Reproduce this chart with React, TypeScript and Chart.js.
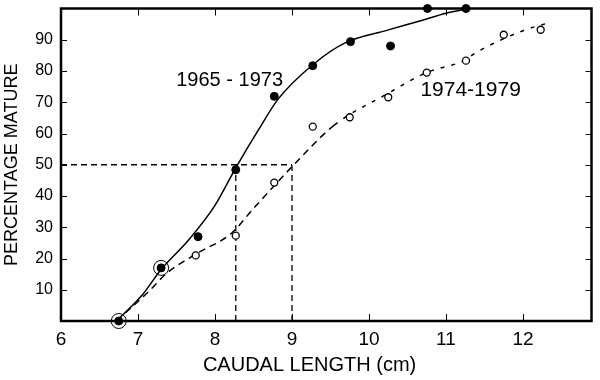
import React, { useEffect, useRef } from "react";
import { Chart, registerables } from "chart.js";

Chart.register(...registerables);

// ---- data ----
const xTickValues = [6, 7, 8, 9, 10, 11, 12];
const yTickValues = [10, 20, 30, 40, 50, 60, 70, 80, 90];

// 1965-1973 (filled circles)
const filledX = [6.75, 7.3, 7.78, 8.27, 8.77, 9.27, 9.76, 10.28, 10.76, 11.26];
const filledY = [0, 17, 27, 48.4, 71.9, 81.7, 89.4, 88, 100, 100];

// 1974-1979 (open circles)
const openX = [7.75, 8.27, 8.77, 9.27, 9.75, 10.25, 10.75, 11.26, 11.75, 12.23];
const openY = [21, 27.3, 44.3, 62.2, 65.2, 71.6, 79.5, 83.3, 91.6, 93.2];

// circled points
const ringX = [6.75, 7.3];
const ringY = [0, 17];

// fitted curve 1965-1973 (solid)
const solidCurveX = [6.72, 7.06, 7.3, 7.66, 8.0, 8.27, 8.56, 8.82, 9.27, 9.69, 10.23, 10.66, 11.0, 11.3];
const solidCurveY = [0, 8.5, 16.5, 26, 37, 49, 61, 71, 82, 89, 93, 96, 98.5, 100];

// fitted curve 1974-1979 (dashed)
const dashedCurveX = [6.72, 7.15, 7.36, 7.75, 8.21, 8.5, 9.04, 9.55, 10.2, 10.75, 11.23, 11.39, 12.0, 12.33];
const dashedCurveY = [0, 9.7, 15, 21.4, 28, 36, 50.4, 62.7, 72.2, 79.5, 83.3, 85.9, 92.9, 95.4];

// 50% reference lines
const refHorizX = [6, 9.0];
const refHorizY = [50, 50];
const refV1X = [8.27, 8.27];
const refV1Y = [0, 50];
const refV2X = [9.0, 9.0];
const refV2Y = [0, 50];

const labelA = "1965 - 1973";
const labelAPos = [8.19, 77];
const labelB = "1974-1979";
const labelBPos = [11.32, 73.8];

const SANS = '"Liberation Sans", Arial, sans-serif';

const pts = (xs: number[], ys: number[]) => xs.map((x, i) => ({ x, y: ys[i] }));

const zeroPad = (s: any) => {
  s.paddingTop = 0;
  s.paddingBottom = 0;
  s.paddingLeft = 0;
  s.paddingRight = 0;
};

export default function App() {
  const ref = useRef<HTMLCanvasElement>(null);

  useEffect(() => {
    document.body.style.margin = "0";
    const canvas = ref.current;
    if (!canvas) return;

    const framePlugin = {
      id: "framePlugin",
      afterDatasetsDraw(chart: any) {
        const { ctx, chartArea, scales } = chart;
        const xs = scales.x;
        const ys = scales.y;
        ctx.save();
        ctx.strokeStyle = "#000";
        // inner ticks
        ctx.lineWidth = 1;
        ctx.beginPath();
        yTickValues.forEach((v) => {
          const py = Math.round(ys.getPixelForValue(v)) + 0.5;
          ctx.moveTo(chartArea.left, py);
          ctx.lineTo(chartArea.left + 6, py);
          ctx.moveTo(chartArea.right, py);
          ctx.lineTo(chartArea.right - 6, py);
        });
        xTickValues.slice(1).forEach((v) => {
          const px = Math.round(xs.getPixelForValue(v)) + 0.5;
          ctx.moveTo(px, chartArea.bottom);
          ctx.lineTo(px, chartArea.bottom - 7);
          ctx.moveTo(px, chartArea.top);
          ctx.lineTo(px, chartArea.top + 7);
        });
        ctx.stroke();
        // frame
        ctx.lineWidth = 2.5;
        ctx.strokeRect(chartArea.left, chartArea.top, chartArea.right - chartArea.left, chartArea.bottom - chartArea.top);
        // series labels
        ctx.fillStyle = "#000";
        ctx.textAlign = "center";
        ctx.textBaseline = "middle";
        ctx.font = `20px ${SANS}`;
        ctx.fillText(labelA, xs.getPixelForValue(labelAPos[0]), ys.getPixelForValue(labelAPos[1]));
        ctx.font = `21px ${SANS}`;
        ctx.fillText(labelB, xs.getPixelForValue(labelBPos[0]), ys.getPixelForValue(labelBPos[1]));
        ctx.restore();
      },
    };

    const refLine = (xs: number[], ys: number[]) => ({
      type: "line" as const,
      data: pts(xs, ys),
      borderColor: "#000",
      borderWidth: 1.3,
      borderDash: [6, 4],
      pointRadius: 0,
      fill: false,
    });

    const chart = new Chart(canvas, {
      type: "line",
      data: {
        datasets: [
          {
            label: "circled",
            data: pts(ringX, ringY),
            showLine: false,
            pointRadius: 7.5,
            pointBackgroundColor: "rgba(0,0,0,0)",
            pointBorderColor: "#000",
            pointBorderWidth: 1,
            clip: false,
          } as any,
          {
            label: "1965-1973",
            data: pts(filledX, filledY),
            showLine: false,
            pointRadius: 4,
            pointBackgroundColor: "#000",
            pointBorderColor: "#000",
            pointBorderWidth: 1,
            clip: false,
          },
          {
            label: "1974-1979",
            data: pts(openX, openY),
            showLine: false,
            pointRadius: 3.5,
            pointBackgroundColor: "#fff",
            pointBorderColor: "#000",
            pointBorderWidth: 1.3,
            clip: false,
          },
          {
            label: "fit 1965-1973",
            data: pts(solidCurveX, solidCurveY),
            borderColor: "#000",
            borderWidth: 1.5,
            pointRadius: 0,
            cubicInterpolationMode: "monotone",
            fill: false,
          },
          {
            label: "fit 1974-1979",
            data: pts(dashedCurveX, dashedCurveY),
            borderColor: "#000",
            borderWidth: 1.5,
            pointRadius: 0,
            cubicInterpolationMode: "monotone",
            fill: false,
            segment: {
              borderDash: (c: any) => (c.p0.parsed.x >= 9.5 ? [4, 7] : [7, 5]),
            },
          } as any,
          refLine(refHorizX, refHorizY),
          refLine(refV1X, refV1Y),
          refLine(refV2X, refV2Y),
        ],
      },
      options: {
        responsive: false,
        animation: false,
        layout: { padding: { top: 7, right: 1, left: 0, bottom: 0 } },
        plugins: {
          legend: { display: false },
          tooltip: { enabled: false },
        },
        scales: {
          x: {
            type: "linear",
            min: 6,
            max: 12.89,
            grid: { display: false, drawTicks: false },
            border: { display: false },
            afterBuildTicks: (s: any) => {
              s.ticks = xTickValues.map((v) => ({ value: v }));
            },
            afterFit: (s: any) => {
              s.height = 59;
              zeroPad(s);
            },
            ticks: {
              color: "#000",
              font: { family: SANS, size: 19 },
              padding: 7,
              maxRotation: 0,
              autoSkip: false,
            },
            title: {
              display: true,
              text: "CAUDAL LENGTH (cm)\u00A0\u00A0\u00A0\u00A0\u00A0\u00A0",
              color: "#000",
              font: { family: SANS, size: 20 },
              padding: { top: 0, bottom: 3 },
            },
          },
          y: {
            type: "linear",
            min: 0,
            max: 100,
            grid: { display: false, drawTicks: false },
            border: { display: false },
            afterBuildTicks: (s: any) => {
              s.ticks = yTickValues.map((v) => ({ value: v }));
            },
            afterFit: (s: any) => {
              s.width = 61;
              zeroPad(s);
            },
            ticks: {
              color: "#000",
              font: { family: SANS, size: 16 },
              padding: 8,
              autoSkip: false,
            },
            title: {
              display: true,
              text: "PERCENTAGE MATURE",
              color: "#000",
              font: { family: SANS, size: 18 },
              padding: { top: 1, bottom: 0 },
            },
          },
        },
      },
      plugins: [framePlugin],
    } as any);

    return () => chart.destroy();
  }, []);

  return (
    <div style={{ width: 600, height: 380 }}>
      <canvas ref={ref} width={600} height={380} style={{ display: "block" }} />
    </div>
  );
}
